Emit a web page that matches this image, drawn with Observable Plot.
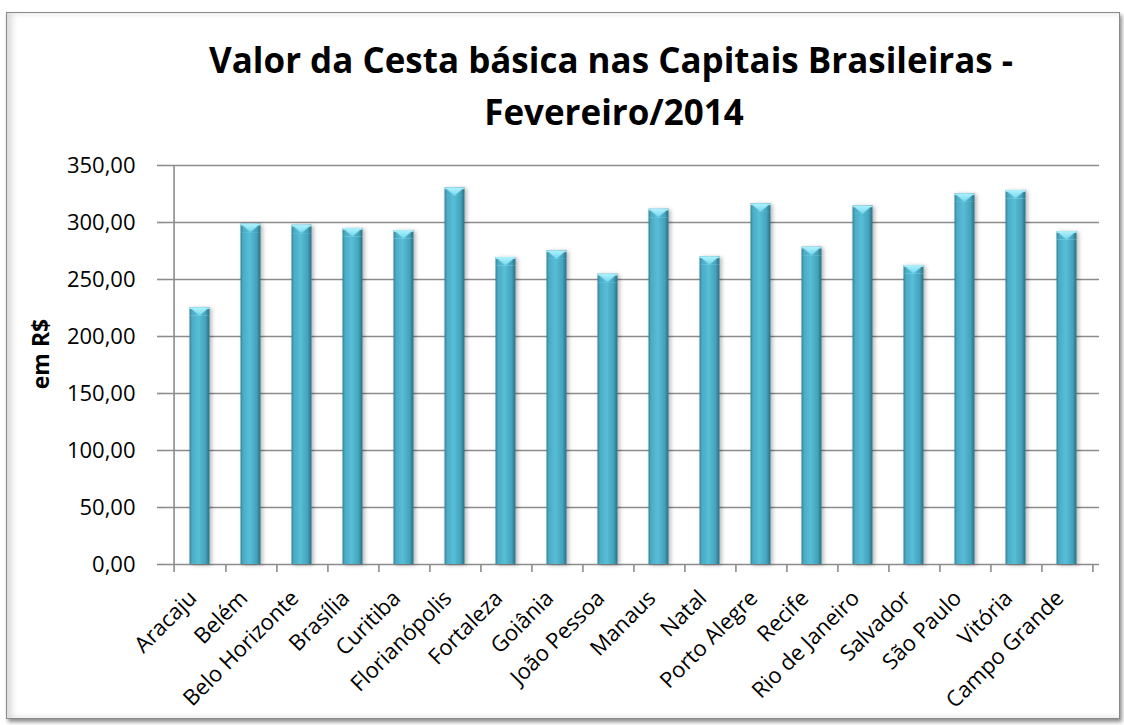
<!DOCTYPE html>
<html><head><meta charset="utf-8">
<script src="https://cdn.jsdelivr.net/npm/d3@7"></script>
<script src="https://cdn.jsdelivr.net/npm/@observablehq/plot@0.6"></script>
<style>
body{margin:0;background:#fff;width:1124px;height:725px;overflow:hidden;position:relative;font-family:"Open Sans",sans-serif;}
#frame{position:absolute;left:6px;top:12px;width:1112px;height:705px;border:1px solid #8a8a8a;box-shadow:2px 3px 4px rgba(0,0,0,0.45), inset 5px 0 6px rgba(0,0,0,0.14);background:#fff;}
#chart{position:absolute;left:0;top:0;}
#overlay{position:absolute;left:0;top:0;pointer-events:none;}
</style></head><body>
<div id="frame"></div>
<div id="chart"></div>
<svg id="overlay" width="1124" height="725">
  <text id="t1" x="611" y="73" text-anchor="middle" font-family="Open Sans" font-weight="bold" font-size="36" fill="#000">Valor da Cesta básica nas Capitais Brasileiras -</text>
  <text id="t2" x="614" y="125" text-anchor="middle" font-family="Open Sans" font-weight="bold" font-size="36" fill="#000">Fevereiro/2014</text>
  <text id="yl" transform="translate(49,354) rotate(-90)" text-anchor="middle" font-family="Open Sans" font-weight="bold" font-size="23" fill="#000">em R$</text>
</svg>
<script>
const cities = ["Aracaju","Belém","Belo Horizonte","Brasília","Curitiba","Florianópolis","Fortaleza","Goiânia","João Pessoa","Manaus","Natal","Porto Alegre","Recife","Rio de Janeiro","Salvador","São Paulo","Vitória","Campo Grande"];
const values = [225.3, 298.6, 297.7, 294.8, 293.0, 330.4, 269.3, 275.2, 254.7, 311.7, 270.0, 316.4, 278.4, 314.6, 262.3, 325.2, 328.1, 292.1];
const yTicks = [0, 50, 100, 150, 200, 250, 300, 350];

const data = cities.map((c, i) => ({city: c, v: values[i]}));
const fmt = d => d.toFixed(2).replace(".", ",");

const W = 1124, H = 725, mL = 166, mR = 25, mT = 165, mB = 161;
const bw = (W - mL - mR) / cities.length;
const inset = (bw - 20.8) / 2;

const defs = () => {
  const g = d3.create("svg:defs");
  const lg = g.append("linearGradient").attr("id", "barGrad").attr("x1", 0).attr("x2", 1).attr("y1", 0).attr("y2", 0);
  [[0, "#347f94"], [0.12, "#4aabc5"], [0.45, "#58bdd6"], [0.8, "#44a3bc"], [1, "#2a6f83"]]
    .forEach(([o, c]) => lg.append("stop").attr("offset", o).attr("stop-color", c));
  const cg = g.append("linearGradient").attr("id", "capGrad").attr("x1", 0).attr("x2", 0).attr("y1", 0).attr("y2", 1);
  [[0, "#b4f4ff"], [1, "#72d6ec"]].forEach(([o, c]) => cg.append("stop").attr("offset", o).attr("stop-color", c));
  const p = g.append("pattern").attr("id", "cap").attr("patternUnits", "objectBoundingBox")
    .attr("patternContentUnits", "objectBoundingBox").attr("width", 1).attr("height", 1);
  p.append("polygon").attr("points", "0,0 1,0 0.5,1").attr("fill", "url(#capGrad)");
  p.append("rect").attr("x", 0).attr("y", 0).attr("width", 1).attr("height", 0.22).attr("fill", "#a6eefb");
  const f = g.append("filter").attr("id", "shadow").attr("x", "-30%").attr("y", "-10%").attr("width", "160%").attr("height", "120%");
  f.append("feDropShadow").attr("dx", 2).attr("dy", 1).attr("stdDeviation", 2).attr("flood-color", "#000").attr("flood-opacity", 0.3);
  return g.node();
};

const chart = Plot.plot({
  width: W, height: H,
  marginLeft: mL, marginRight: mR, marginTop: mT, marginBottom: mB,
  style: {fontFamily: "Open Sans", fontSize: "22px", color: "#000", background: "transparent"},
  x: {domain: cities, padding: 0, label: null},
  y: {domain: [0, 350], label: null},
  marks: [
    defs,
    Plot.ruleY(yTicks.slice(1), {stroke: "#8c8c8c", strokeWidth: 1.6}),
    Plot.axisY({ticks: yTicks, tickFormat: fmt, tickSize: 9, tickPadding: 22, stroke: "#8c8c8c", strokeWidth: 1.6, label: null, fontSize: 22}),
    Plot.axisX({tickRotate: -45, tickSize: 0, tickPadding: 30, dx: -7, label: null, fontSize: 22}),
    Plot.ruleX([cities[0]], {x: d => d, y1: -7, y2: 350, dx: -bw / 2, stroke: "#8c8c8c", strokeWidth: 1.6}),
    Plot.ruleX(cities, {x: d => d, y1: -7, y2: 0, dx: bw / 2, stroke: "#8c8c8c", strokeWidth: 1.6}),
    Plot.ruleY([0], {stroke: "#8c8c8c", strokeWidth: 1.6}),
    Plot.barY(data, {x: "city", y: "v", fill: "url(#barGrad)", insetLeft: inset, insetRight: inset}),
    Plot.barY(data, {x: "city", y1: d => d.v - 7.5, y2: "v", fill: "url(#cap)", insetLeft: inset, insetRight: inset})
  ]
});
document.getElementById("chart").appendChild(chart);
const bars = chart.querySelectorAll('g[aria-label="bar"]');
if (bars.length) bars[0].setAttribute("filter", "url(#shadow)");

// condense title to match reference width
const t1 = document.getElementById("t1"), t2 = document.getElementById("t2");
const l1 = t1.getComputedTextLength(), l2 = t2.getComputedTextLength();
const s = 804 / l1;
t1.setAttribute("textLength", 804); t1.setAttribute("lengthAdjust", "spacingAndGlyphs");
t2.setAttribute("textLength", l2 * s); t2.setAttribute("lengthAdjust", "spacingAndGlyphs");
</script>
</body></html>
